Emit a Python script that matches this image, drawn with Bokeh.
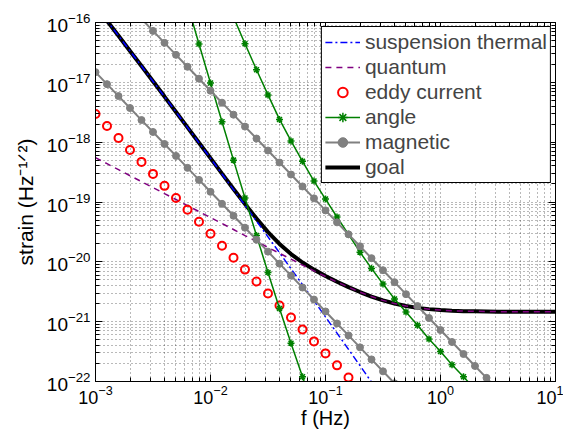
from bokeh.plotting import figure
from bokeh.models import (FixedTicker, LogAxis, Legend, LegendItem, Range1d)
from bokeh.embed import file_html
from bokeh.resources import INLINE

# frequency grid (Hz), 0.1-decade steps from 1e-3 to 1e1
freq = [1.000e-3, 1.259e-3, 1.585e-3, 1.995e-3, 2.512e-3, 3.162e-3, 3.981e-3, 5.012e-3, 6.310e-3, 7.943e-3,
        1.000e-2, 1.259e-2, 1.585e-2, 1.995e-2, 2.512e-2, 3.162e-2, 3.981e-2, 5.012e-2, 6.310e-2, 7.943e-2,
        1.000e-1, 1.259e-1, 1.585e-1, 1.995e-1, 2.512e-1, 3.162e-1, 3.981e-1, 5.012e-1, 6.310e-1, 7.943e-1,
        1.000e0, 1.259e0, 1.585e0, 1.995e0, 2.512e0, 3.162e0, 3.981e0, 5.012e0, 6.310e0, 7.943e0,
        1.000e1]

# suspension thermal (freq[0:26])
thermal = [1.905e-16, 1.069e-16, 6.00e-17, 3.35e-17, 1.87e-17, 1.04e-17, 5.78e-18, 3.20e-18, 1.77e-18, 9.75e-19,
           5.37e-19, 2.94e-19, 1.61e-19, 8.81e-20, 4.81e-20, 2.61e-20, 1.42e-20, 7.67e-21, 4.15e-21, 2.23e-21,
           1.20e-21, 6.44e-22, 3.45e-22, 1.84e-22, 9.80e-23, 5.21e-23]

# quantum (freq[0:41])
quantum = [5.50e-19, 4.37e-19, 3.47e-19, 2.75e-19, 2.19e-19, 1.74e-19, 1.38e-19, 1.10e-19, 8.71e-20, 6.92e-20,
           5.50e-20, 4.37e-20, 3.47e-20, 2.75e-20, 2.19e-20, 1.74e-20, 1.39e-20, 1.11e-20, 8.83e-21, 7.07e-21,
           5.69e-21, 4.60e-21, 3.76e-21, 3.12e-21, 2.63e-21, 2.27e-21, 2.01e-21, 1.83e-21, 1.70e-21, 1.62e-21,
           1.56e-21, 1.525e-21, 1.50e-21, 1.49e-21, 1.48e-21, 1.47e-21, 1.47e-21, 1.465e-21, 1.46e-21, 1.46e-21,
           1.46e-21]

# goal (freq[0:41])
goal = [1.905e-16, 1.069e-16, 6.00e-17, 3.35e-17, 1.87e-17, 1.04e-17, 5.78e-18, 3.20e-18, 1.77e-18, 9.77e-19,
        5.40e-19, 2.98e-19, 1.65e-19, 9.23e-20, 5.28e-20, 3.14e-20, 1.99e-20, 1.35e-20, 9.75e-21, 7.41e-21,
        5.81e-21, 4.65e-21, 3.78e-21, 3.13e-21, 2.63e-21, 2.27e-21, 2.01e-21, 1.83e-21, 1.70e-21, 1.62e-21,
        1.56e-21, 1.525e-21, 1.50e-21, 1.49e-21, 1.48e-21, 1.47e-21, 1.47e-21, 1.465e-21, 1.46e-21, 1.46e-21,
        1.46e-21]

# eddy current (freq[0:23])
eddy = [2.95e-18, 1.86e-18, 1.17e-18, 7.41e-19, 4.68e-19, 2.95e-19, 1.86e-19, 1.17e-19, 7.41e-20, 4.68e-20,
        2.95e-20, 1.86e-20, 1.17e-20, 7.41e-21, 4.68e-21, 2.95e-21, 1.86e-21, 1.17e-21, 7.41e-22, 4.68e-22,
        2.95e-22, 1.86e-22, 1.17e-22]

# angle, first component (freq[8:20])
angle1 = [2.00e-16, 4.37e-17, 9.77e-18, 2.19e-18, 5.01e-19, 1.17e-19, 2.75e-20, 6.61e-21, 1.66e-21, 4.37e-22,
          1.20e-22, 3.39e-23]

# angle, second component (freq[12:34])
angle2 = [1.23e-16, 4.42e-17, 1.62e-17, 6.17e-18, 2.40e-18, 1.05e-18, 4.79e-19, 2.24e-19, 1.12e-19, 5.62e-20,
          2.88e-20, 1.45e-20, 7.76e-21, 4.27e-21, 2.40e-21, 1.45e-21, 8.71e-22, 5.13e-22, 3.16e-22, 1.91e-22,
          1.20e-22, 7.41e-23]

# magnetic, first component (freq[0:27])
magnetic1 = [1.48e-17, 9.33e-18, 5.89e-18, 3.72e-18, 2.34e-18, 1.48e-18, 9.33e-19, 5.89e-19, 3.72e-19, 2.34e-19,
             1.48e-19, 9.33e-20, 5.89e-20, 3.72e-20, 2.34e-20, 1.48e-20, 9.33e-21, 5.89e-21, 3.72e-21, 2.34e-21,
             1.48e-21, 9.33e-22, 5.89e-22, 3.72e-22, 2.34e-22, 1.48e-22, 9.33e-23]

# magnetic, second component (freq[4:36])
magnetic2 = [1.15e-16, 7.24e-17, 4.57e-17, 2.88e-17, 1.82e-17, 1.15e-17, 7.24e-18, 4.57e-18, 2.88e-18, 1.82e-18,
             1.15e-18, 7.24e-19, 4.57e-19, 2.88e-19, 1.82e-19, 1.15e-19, 7.24e-20, 4.57e-20, 2.88e-20, 1.82e-20,
             1.15e-20, 7.24e-21, 4.57e-21, 2.88e-21, 1.82e-21, 1.15e-21, 7.24e-22, 4.57e-22, 2.88e-22, 1.82e-22,
             1.15e-22, 7.24e-23]

x_ticks = [1e-3, 1e-2, 1e-1, 1e0, 1e1]
y_ticks = [1e-22, 1e-21, 1e-20, 1e-19, 1e-18, 1e-17, 1e-16]
legend_labels = ["suspension thermal", "quantum", "eddy current", "angle", "magnetic", "goal"]

FONT = "Liberation Sans"

p = figure(width=563, height=431, x_axis_type="log", y_axis_type="log",
           x_range=Range1d(1e-3, 1e1), y_range=Range1d(1e-22, 1e-16),
           output_backend="svg", toolbar_location=None,
           min_border_left=95, min_border_right=8, min_border_top=22, min_border_bottom=48)
p.outline_line_color = "black"
p.outline_line_width = 1

x_minor = [m * t for t in x_ticks[:-1] for m in range(2, 10)]
y_minor = [m * t for t in y_ticks[:-1] for m in range(2, 10)]
xt = FixedTicker(ticks=x_ticks, minor_ticks=x_minor)
yt = FixedTicker(ticks=y_ticks, minor_ticks=y_minor)

for ax, tk in ((p.xaxis[0], xt), (p.yaxis[0], yt)):
    ax.ticker = tk
    ax.major_label_text_font = FONT
    ax.major_label_text_font_size = "19px"
    ax.major_label_text_color = "black"
    ax.axis_label_text_font = FONT
    ax.axis_label_text_font_size = "21px"
    ax.axis_label_text_font_style = "normal"
    ax.axis_label_text_color = "black"
    ax.major_tick_in = 7
    ax.major_tick_out = 0
    ax.minor_tick_in = 4
    ax.minor_tick_out = 0
    ax.axis_line_color = "black"
    ax.major_tick_line_color = "black"
    ax.minor_tick_line_color = "black"

p.xaxis.major_label_text_font_size = "18px"
p.xaxis.major_label_standoff = 3
p.xaxis.axis_label = "f (Hz)"
p.xaxis.axis_label_text_font_size = "20px"
p.xaxis.axis_label_standoff = 0
p.yaxis.major_label_standoff = 5
p.yaxis.axis_label = "strain (Hz\u207b\u00b9\u141f\u00b2)"
p.yaxis.axis_label_standoff = 7

for side, tk in (("above", xt), ("right", yt)):
    ax = LogAxis(ticker=tk, major_label_text_font_size="1px", major_label_text_alpha=0,
                 major_tick_in=7, major_tick_out=0, minor_tick_in=4, minor_tick_out=0,
                 axis_line_color="black", major_label_standoff=0)
    p.add_layout(ax, side)

for g in (p.xgrid[0], p.ygrid[0]):
    g.grid_line_color = "black"
    g.grid_line_alpha = 0.55
    g.grid_line_dash = "1 3"
    g.minor_grid_line_color = "black"
    g.minor_grid_line_alpha = 0.55
    g.minor_grid_line_dash = "1 3"
p.xgrid[0].ticker = xt
p.ygrid[0].ticker = yt

r_goal = p.line(freq, goal, line_color="black", line_width=4)
r_th = p.line(freq[:len(thermal)], thermal, line_color="#0000ff", line_width=1.5, line_dash="7 3 2 3")
r_q = p.line(freq, quantum, line_color="#800080", line_width=1.5, line_dash="6 5")
r_ed = p.scatter(freq[:len(eddy)], eddy, marker="circle", size=8, fill_color=None,
                 line_color="#ff0000", line_width=2)
r_a1 = p.line(freq[8:8 + len(angle1)], angle1, line_color="#008000", line_width=1.5)
r_a1m = p.scatter(freq[8:8 + len(angle1)], angle1, marker="asterisk", size=7,
                  line_color="#008000", line_width=1.5)
r_a2 = p.line(freq[12:12 + len(angle2)], angle2, line_color="#008000", line_width=1.5)
r_a2m = p.scatter(freq[12:12 + len(angle2)], angle2, marker="asterisk", size=7,
                  line_color="#008000", line_width=1.5)
r_m1 = p.line(freq[:len(magnetic1)], magnetic1, line_color="#808080", line_width=2)
r_m1m = p.scatter(freq[:len(magnetic1)], magnetic1, marker="circle", size=7,
                  fill_color="#808080", line_color="#808080")
r_m2 = p.line(freq[4:4 + len(magnetic2)], magnetic2, line_color="#808080", line_width=2)
r_m2m = p.scatter(freq[4:4 + len(magnetic2)], magnetic2, marker="circle", size=7,
                  fill_color="#808080", line_color="#808080")

items = [
    LegendItem(label=legend_labels[0], renderers=[r_th]),
    LegendItem(label=legend_labels[1], renderers=[r_q]),
    LegendItem(label=legend_labels[2], renderers=[r_ed]),
    LegendItem(label=legend_labels[3], renderers=[r_a1, r_a1m]),
    LegendItem(label=legend_labels[4], renderers=[r_m1, r_m1m]),
    LegendItem(label=legend_labels[5], renderers=[r_goal]),
]
legend = Legend(items=items, location="top_right", margin=4, padding=3, spacing=1,
                label_text_font=FONT, label_text_font_size="21px", label_standoff=5,
                label_height=24, glyph_height=24, glyph_width=35,
                border_line_color="black", border_line_width=1, border_line_alpha=1,
                background_fill_color="white", background_fill_alpha=1)
p.add_layout(legend)

open("out.html", "w").write(file_html(p, INLINE))
